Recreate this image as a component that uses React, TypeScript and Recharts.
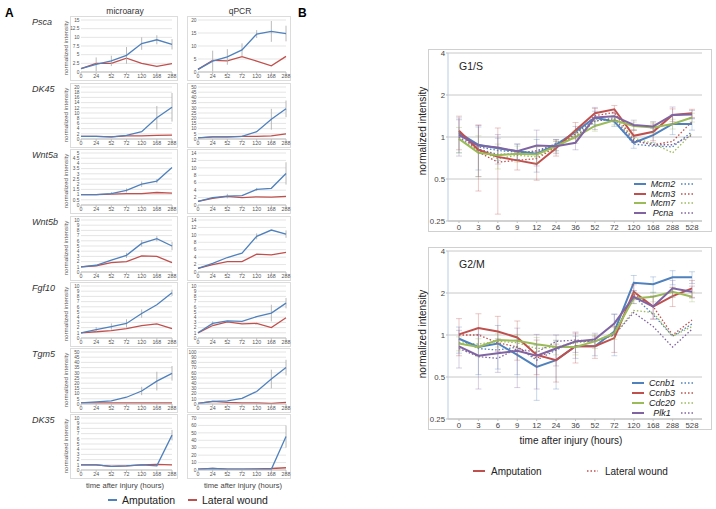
import React from 'react';
import { LineChart, Line, XAxis, YAxis, CartesianGrid, ErrorBar } from 'recharts';

const BLUE = '#4f81bd';
const RED = '#c0504d';
const GREEN = '#9bbb59';
const PURPLE = '#8064a2';

// ---------- Panel A ----------
const hoursA = ['0', '24', '52', '72', '120', '168', '288'];
const genesA = ['Psca', 'DK45', 'Wnt5a', 'Wnt5b', 'Fgf10', 'Tgm5', 'DK35'];

const pscaMicroAmp = [1, 2.2, 3.2, 4.8, 8.2, 9.3, 8.0];
const pscaMicroLat = [1, 2.5, 2.5, 4.0, 2.5, 1.6, 2.4];
const pscaMicroErr = [0, 2, 1.5, 2.4, 1.8, 1.3, 1.5];
const pscaMicroTicks = [0, 2.5, 5, 7.5, 10, 12.5, 15];
const pscaQpcrAmp = [1, 4.2, 5.8, 8.5, 14.6, 15.6, 14.8];
const pscaQpcrLat = [1, 4.5, 4.3, 5.9, 4.2, 2.4, 6.0];
const pscaQpcrErr = [0, 4, 3, 2.5, 1.5, 4, 3];
const pscaQpcrTicks = [0, 5, 10, 15, 20];

const dk45MicroAmp = [1, 1, 0.8, 1.4, 2.8, 8.2, 12.2];
const dk45MicroLat = [1, 1, 0.8, 1.2, 1.2, 1.4, 1.5];
const dk45MicroErr = [0, 0, 0, 0, 0, 4.5, 5.5];
const dk45MicroTicks = [0, 2, 4, 6, 8, 10, 12, 14, 16, 18, 20];
const dk45QpcrAmp = [1, 2, 2, 2.5, 7, 19, 29];
const dk45QpcrLat = [1, 2, 2, 2.5, 2.5, 3, 5];
const dk45QpcrErr = [0, 0, 0, 0, 0, 10, 8];
const dk45QpcrTicks = [0, 5, 10, 15, 20, 25, 30, 35, 40, 45, 50];

const wnt5aMicroAmp = [1, 1, 1.1, 1.4, 2.0, 2.3, 3.6];
const wnt5aMicroLat = [1, 1, 1.05, 1.1, 1.1, 1.2, 1.15];
const wnt5aMicroErr = [0, 0, 0.15, 0.2, 0.25, 0.2, 0];
const wnt5aMicroTicks = [0, 0.5, 1, 1.5, 2, 2.5, 3, 3.5, 4, 4.5, 5];
const wnt5aQpcrAmp = [1, 2, 2.4, 2.5, 4.2, 4.5, 8.5];
const wnt5aQpcrLat = [1, 1.8, 2.3, 2.0, 2.2, 2.1, 2.3];
const wnt5aQpcrErr = [0, 0, 0.6, 0, 0.4, 0, 3];
const wnt5aQpcrTicks = [0, 2, 4, 6, 8, 10, 12, 14];

const wnt5bMicroAmp = [1, 1.3, 2.3, 3.2, 5.5, 6.4, 5.0];
const wnt5bMicroLat = [1, 1.2, 1.8, 2.0, 3.1, 3.0, 1.8];
const wnt5bMicroErr = [0, 0, 0, 0.5, 0.6, 0.5, 0.8];
const wnt5bMicroTicks = [0, 1, 2, 3, 4, 5, 6, 7, 8, 9, 10];
const wnt5bQpcrAmp = [1, 2.3, 3.9, 5.1, 9.6, 11.3, 10.2];
const wnt5bQpcrLat = [1, 2.0, 2.8, 2.8, 4.8, 4.6, 5.3];
const wnt5bQpcrErr = [0, 0, 0, 0, 0.8, 0, 1];
const wnt5bQpcrTicks = [0, 2, 4, 6, 8, 10, 12, 14];

const fgf10MicroAmp = [1, 1.6, 2.2, 2.8, 4.7, 6.4, 8.7];
const fgf10MicroLat = [1, 1.2, 1.4, 1.8, 2.4, 2.7, 1.8];
const fgf10MicroErr = [0, 0.5, 0.6, 0.8, 0.8, 0, 0.6];
const fgf10MicroTicks = [0, 1, 2, 3, 4, 5, 6, 7, 8, 9, 10];
const fgf10QpcrAmp = [1, 2.8, 3.3, 3.2, 4.1, 4.8, 6.7];
const fgf10QpcrLat = [1, 2.4, 3.1, 2.7, 2.8, 2.0, 3.9];
const fgf10QpcrErr = [0, 0.4, 0, 0, 0, 1.6, 1];
const fgf10QpcrTicks = [0, 1, 2, 3, 4, 5, 6, 7, 8, 9, 10];

const tgm5MicroAmp = [1, 2, 3, 6.5, 12.5, 22, 29.5];
const tgm5MicroLat = [1, 1, 1, 1, 1, 1, 1];
const tgm5MicroErr = [0, 0, 0, 0, 4, 9, 7];
const tgm5MicroTicks = [0, 5, 10, 15, 20, 25, 30, 35, 40, 45, 50];
const tgm5QpcrAmp = [1, 5, 6, 11, 24, 48, 70];
const tgm5QpcrLat = [1, 5, 3, 2, 2, 1, 3];
const tgm5QpcrErr = [0, 0, 0, 0, 0, 18, 15];
const tgm5QpcrTicks = [0, 10, 20, 30, 40, 50, 60, 70, 80, 90, 100];

const dk35MicroAmp = [1, 1, 0.7, 0.8, 1, 0.8, 6.7];
const dk35MicroLat = [1, 1, 0.7, 0.8, 1, 1.1, 1.0];
const dk35MicroErr = [0, 0, 0, 0, 0, 0, 1];
const dk35MicroTicks = [0, 1, 2, 3, 4, 5, 6, 7, 8, 9, 10];
const dk35QpcrAmp = [1, 2, 1, 1, 1, 1, 45];
const dk35QpcrLat = [1, 2, 1, 1, 1.5, 2, 3];
const dk35QpcrErr = [0, 0, 0, 0, 0, 0, 15];
const dk35QpcrTicks = [0, 10, 20, 30, 40, 50, 60, 70];

const rowTops = [16, 83, 149, 216, 282, 348, 414];

const microRows = [
  [pscaMicroAmp, pscaMicroLat, pscaMicroErr, pscaMicroTicks],
  [dk45MicroAmp, dk45MicroLat, dk45MicroErr, dk45MicroTicks],
  [wnt5aMicroAmp, wnt5aMicroLat, wnt5aMicroErr, wnt5aMicroTicks],
  [wnt5bMicroAmp, wnt5bMicroLat, wnt5bMicroErr, wnt5bMicroTicks],
  [fgf10MicroAmp, fgf10MicroLat, fgf10MicroErr, fgf10MicroTicks],
  [tgm5MicroAmp, tgm5MicroLat, tgm5MicroErr, tgm5MicroTicks],
  [dk35MicroAmp, dk35MicroLat, dk35MicroErr, dk35MicroTicks],
];
const qpcrRows = [
  [pscaQpcrAmp, pscaQpcrLat, pscaQpcrErr, pscaQpcrTicks],
  [dk45QpcrAmp, dk45QpcrLat, dk45QpcrErr, dk45QpcrTicks],
  [wnt5aQpcrAmp, wnt5aQpcrLat, wnt5aQpcrErr, wnt5aQpcrTicks],
  [wnt5bQpcrAmp, wnt5bQpcrLat, wnt5bQpcrErr, wnt5bQpcrTicks],
  [fgf10QpcrAmp, fgf10QpcrLat, fgf10QpcrErr, fgf10QpcrTicks],
  [tgm5QpcrAmp, tgm5QpcrLat, tgm5QpcrErr, tgm5QpcrTicks],
  [dk35QpcrAmp, dk35QpcrLat, dk35QpcrErr, dk35QpcrTicks],
];

// ---------- Panel B ----------
const hoursB = ['0', '3', '6', '9', '12', '24', '36', '52', '72', '120', '168', '288', '528'];
const logTicks = [0.25, 0.5, 1, 2, 4];

const mcm2Amp = [1.07, 0.88, 0.83, 0.79, 0.76, 0.88, 1.09, 1.38, 1.29, 0.91, 1.03, 1.24, 1.24];
const mcm3Amp = [1.11, 0.81, 0.72, 0.68, 0.64, 0.83, 1.12, 1.48, 1.58, 1.02, 1.09, 1.44, 1.48];
const mcm7Amp = [0.97, 0.77, 0.74, 0.76, 0.75, 0.86, 1.0, 1.2, 1.32, 1.2, 1.17, 1.24, 1.38];
const pcnaAmp = [1.03, 0.87, 0.84, 0.79, 0.87, 0.86, 0.91, 1.38, 1.41, 1.22, 1.19, 1.44, 1.45];
const mcm2Lat = [1.05, 0.85, 0.8, 0.78, 0.78, 0.9, 1.05, 1.35, 1.3, 0.89, 0.86, 0.85, 1.09];
const mcm3Lat = [1.08, 0.78, 0.66, 0.68, 0.7, 0.85, 1.05, 1.42, 1.5, 0.95, 0.88, 0.93, 1.29];
const mcm7Lat = [0.97, 0.8, 0.7, 0.74, 0.72, 0.85, 1.02, 1.3, 1.38, 0.98, 0.9, 0.77, 1.06];
const pcnaLat = [1.0, 0.82, 0.75, 0.76, 0.8, 0.88, 1.0, 1.3, 1.35, 0.94, 0.88, 0.88, 1.03];
const mcm2Err = [0.3, 0.3, 0.15, 0.1, 0.2, 0.08, 0.1, 0.15, 0.1, 0.08, 0.12, 0.2, 0.12];
const mcm3Err = [0.3, 0.4, 0.44, 0.1, 0.15, 0.1, 0.15, 0.12, 0.1, 0.1, 0.15, 0.15, 0.1];
const mcm7Err = [0.2, 0.25, 0.15, 0.1, 0.1, 0.08, 0.1, 0.1, 0.1, 0.08, 0.1, 0.1, 0.1];
const pcnaErr = [0.3, 0.35, 0.2, 0.1, 0.25, 0.1, 0.1, 0.25, 0.1, 0.1, 0.1, 0.2, 0.1];

const ccnb1Amp = [0.94, 0.82, 0.87, 0.72, 0.59, 0.66, 0.83, 0.83, 1.06, 2.37, 2.31, 2.59, 2.59];
const ccnb3Amp = [1.01, 1.12, 1.06, 0.96, 0.72, 0.66, 0.83, 0.83, 0.95, 2.04, 1.6, 1.9, 2.16];
const cdc20Amp = [0.87, 0.82, 0.92, 0.91, 0.86, 0.82, 0.82, 0.9, 1.03, 1.83, 1.88, 2.04, 1.88];
const plk1Amp = [0.83, 0.71, 0.74, 0.77, 0.71, 0.8, 0.9, 0.93, 1.21, 1.88, 1.6, 2.16, 2.04];
const ccnb1Lat = [0.94, 0.8, 0.78, 0.82, 0.66, 0.78, 0.9, 0.9, 1.03, 1.9, 1.4, 0.98, 1.2];
const ccnb3Lat = [1.0, 1.0, 0.88, 0.82, 0.68, 0.8, 0.9, 0.9, 1.0, 1.95, 1.6, 1.0, 1.28];
const cdc20Lat = [0.88, 0.86, 0.9, 0.88, 0.8, 0.82, 0.88, 0.9, 1.0, 1.5, 1.45, 0.98, 1.15];
const plk1Lat = [0.8, 0.7, 0.68, 0.8, 0.75, 0.9, 0.92, 0.9, 1.0, 1.45, 1.15, 0.82, 1.1];
const ccnb1Err = [0.2, 0.3, 0.3, 0.2, 0.25, 0.25, 0.15, 0.12, 0.35, 0.3, 0.3, 0.3, 0.25];
const ccnb3Err = [0.3, 0.3, 0.3, 0.3, 0.2, 0.2, 0.2, 0.15, 0.2, 0.25, 0.3, 0.3, 0.3];
const cdc20Err = [0.1, 0.12, 0.1, 0.1, 0.1, 0.1, 0.1, 0.1, 0.1, 0.15, 0.15, 0.15, 0.15];
const plk1Err = [0.25, 0.3, 0.2, 0.35, 0.3, 0.2, 0.15, 0.1, 0.2, 0.2, 0.3, 0.3, 0.2];

const g1sGenes = ['Mcm2', 'Mcm3', 'Mcm7', 'Pcna'];
const g2mGenes = ['Ccnb1', 'Ccnb3', 'Cdc20', 'Plk1'];
const geneColors = [BLUE, RED, GREEN, PURPLE];

const g1sSeries = [
  [mcm2Amp, mcm2Lat, mcm2Err],
  [mcm3Amp, mcm3Lat, mcm3Err],
  [mcm7Amp, mcm7Lat, mcm7Err],
  [pcnaAmp, pcnaLat, pcnaErr],
];
const g2mSeries = [
  [ccnb1Amp, ccnb1Lat, ccnb1Err],
  [ccnb3Amp, ccnb3Lat, ccnb3Err],
  [cdc20Amp, cdc20Lat, cdc20Err],
  [plk1Amp, plk1Lat, plk1Err],
];

function Mini({ x, y, w, right, amp, lat, err, ticks }: any) {
  const data = hoursA.map((h, i) => ({ h, amp: amp[i], lat: lat[i], e: err[i] }));
  const max = ticks[ticks.length - 1];
  return (
    <div style={{ position: 'absolute', left: x, top: y, width: w, height: 65 }}>
      <div style={{ position: 'absolute', left: 0, top: 0, right: 0, bottom: 0, border: '1px solid #dcdcdc' }} />
      <LineChart width={w} height={65} data={data} margin={{ top: 4, right, bottom: 0, left: 0 }}>
        <CartesianGrid vertical={false} stroke="#dadada" strokeWidth={0.7} />
        <XAxis
          dataKey="h"
          interval={0}
          height={9}
          tick={{ fontSize: 5.3, fill: '#555' }}
          tickSize={2}
          tickMargin={0.5}
          axisLine={{ stroke: '#bfbfbf' }}
          tickLine={{ stroke: '#bfbfbf' }}
        />
        <YAxis
          width={11}
          domain={[0, max]}
          ticks={ticks}
          interval={0}
          allowDataOverflow
          tick={{ fontSize: 4.8, fill: '#555' }}
          tickLine={false}
          tickSize={0}
          axisLine={false}
          tickMargin={1.5}
        />
        <Line dataKey="lat" stroke={RED} strokeWidth={1.3} dot={false} isAnimationActive={false} />
        <Line dataKey="amp" stroke={BLUE} strokeWidth={1.3} dot={false} isAnimationActive={false}>
          <ErrorBar dataKey="e" width={0} stroke="#a8a8a8" strokeWidth={0.8} direction="y" />
        </Line>
      </LineChart>
    </div>
  );
}

function Cycle({ y, series }: any) {
  const data = hoursB.map((t, i) => {
    const o: any = { t };
    series.forEach((s: any, k: number) => {
      o['a' + k] = s[0][i];
      o['l' + k] = s[1][i];
      o['e' + k] = s[2][i];
    });
    return o;
  });
  return (
    <div style={{ position: 'absolute', left: 428, top: y, width: 284, height: 183 }}>
      <div style={{ position: 'absolute', left: 0, top: 0, right: 0, bottom: 0, border: '1px solid #d0d0d0' }} />
      <LineChart width={284} height={183} data={data} margin={{ top: 4, right: 10, bottom: 0, left: 0 }}>
        <CartesianGrid vertical={false} stroke="#c8c8c8" />
        <XAxis
          dataKey="t"
          interval={0}
          height={11}
          padding={{ left: 11, right: 10 }}
          tick={{ fontSize: 7.8, fill: '#444' }}
          tickSize={2}
          tickMargin={1}
          axisLine={{ stroke: '#bfbfbf' }}
          tickLine={{ stroke: '#bfbfbf' }}
        />
        <YAxis
          width={20}
          scale="log"
          domain={[0.25, 4]}
          ticks={logTicks}
          interval={0}
          allowDataOverflow
          tick={{ fontSize: 7.8, fill: '#444' }}
          tickSize={2}
          tickMargin={1}
          axisLine={{ stroke: '#b9cde5' }}
          tickLine={{ stroke: '#bfbfbf' }}
        />
        {series.map((s: any, k: number) => (
          <Line
            key={'l' + k}
            dataKey={'l' + k}
            stroke={geneColors[k]}
            strokeWidth={1.3}
            strokeDasharray="1.5 2"
            dot={false}
            isAnimationActive={false}
          />
        ))}
        {series.map((s: any, k: number) => (
          <Line
            key={'a' + k}
            dataKey={'a' + k}
            stroke={geneColors[k]}
            strokeWidth={2}
            dot={false}
            isAnimationActive={false}
          >
            <ErrorBar dataKey={'e' + k} width={3} stroke={geneColors[k]} strokeOpacity={0.4} strokeWidth={0.8} direction="y" />
          </Line>
        ))}
      </LineChart>
    </div>
  );
}

export default function App() {
  const g1Leg = [184, 194, 203, 213];
  const g2Leg = [383, 393, 403, 413];
  return (
    <div
      style={{
        position: 'absolute',
        left: 0,
        top: 0,
        width: 716,
        height: 509,
        background: '#fff',
        fontFamily: '"Liberation Sans", Arial, sans-serif',
        overflow: 'hidden',
      }}
    >
      {microRows.map((r, i) => (
        <Mini key={'m' + i} x={70} y={rowTops[i]} w={108} right={6} amp={r[0]} lat={r[1]} err={r[2]} ticks={r[3]} />
      ))}
      {qpcrRows.map((r, i) => (
        <Mini key={'q' + i} x={187} y={rowTops[i]} w={104} right={5} amp={r[0]} lat={r[1]} err={r[2]} ticks={r[3]} />
      ))}
      <Cycle y={49} series={g1sSeries} />
      <Cycle y={247} series={g2mSeries} />
      <svg width={716} height={509} style={{ position: 'absolute', left: 0, top: 0, pointerEvents: 'none' }}>
        <text x={5} y={17} fontSize={12} fontWeight="bold" fill="#000">A</text>
        <text x={298} y={17} fontSize={12} fontWeight="bold" fill="#000">B</text>
        <text x={125} y={14} fontSize={8.5} textAnchor="middle" fill="#333">microaray</text>
        <text x={240} y={14} fontSize={8.5} textAnchor="middle" fill="#333">qPCR</text>
        {genesA.map((g, i) => (
          <text key={g} x={32} y={rowTops[i] + 9} fontSize={9} fontStyle="italic" fill="#333">{g}</text>
        ))}
        {rowTops.map((t, i) => (
          <text
            key={'yl' + i}
            x={0}
            y={0}
            fontSize={6.2}
            textAnchor="middle"
            fill="#555"
            transform={`translate(67.5 ${t + 32}) rotate(-90)`}
          >
            normalized intensity
          </text>
        ))}
        <text x={125} y={488} fontSize={7.6} textAnchor="middle" fill="#444">time after injury (hours)</text>
        <text x={243} y={488} fontSize={7.6} textAnchor="middle" fill="#444">time after injury (hours)</text>
        <line x1={108} y1={500} x2={117} y2={500} stroke={BLUE} strokeWidth={2} />
        <text x={122} y={504} fontSize={10.5} fill="#222">Amputation</text>
        <line x1={188} y1={500} x2={197} y2={500} stroke={RED} strokeWidth={2} />
        <text x={202} y={504} fontSize={10.5} fill="#222">Lateral wound</text>

        <text x={459} y={70} fontSize={10.5} fill="#222">G1/S</text>
        <text x={459} y={268} fontSize={10.5} fill="#222">G2/M</text>
        <text x={0} y={0} fontSize={10} textAnchor="middle" fill="#222" transform="translate(425.5 131) rotate(-90)">normalized intensity</text>
        <text x={0} y={0} fontSize={10} textAnchor="middle" fill="#222" transform="translate(425.5 334) rotate(-90)">normalized intensity</text>
        {g1sGenes.map((g, k) => (
          <g key={g}>
            <line x1={634} y1={g1Leg[k]} x2={646} y2={g1Leg[k]} stroke={geneColors[k]} strokeWidth={2} />
            <text x={663} y={g1Leg[k] + 3} fontSize={9} fontStyle="italic" textAnchor="middle" fill="#222">{g}</text>
            <line x1={681} y1={g1Leg[k]} x2={693} y2={g1Leg[k]} stroke={geneColors[k]} strokeWidth={1.3} strokeDasharray="1.5 2" />
          </g>
        ))}
        {g2mGenes.map((g, k) => (
          <g key={g}>
            <line x1={632} y1={g2Leg[k]} x2={644} y2={g2Leg[k]} stroke={geneColors[k]} strokeWidth={2} />
            <text x={662} y={g2Leg[k] + 3} fontSize={9} fontStyle="italic" textAnchor="middle" fill="#222">{g}</text>
            <line x1={681} y1={g2Leg[k]} x2={693} y2={g2Leg[k]} stroke={geneColors[k]} strokeWidth={1.3} strokeDasharray="1.5 2" />
          </g>
        ))}
        <text x={571} y={444} fontSize={10} textAnchor="middle" fill="#222">time after injury (hours)</text>
        <line x1={473} y1={471} x2={485} y2={471} stroke={RED} strokeWidth={2} />
        <text x={491} y={475} fontSize={10} fill="#222">Amputation</text>
        <line x1={587} y1={471} x2={598} y2={471} stroke={RED} strokeWidth={1.3} strokeDasharray="1.5 2" />
        <text x={605} y={475} fontSize={10} fill="#222">Lateral wound</text>
      </svg>
    </div>
  );
}
